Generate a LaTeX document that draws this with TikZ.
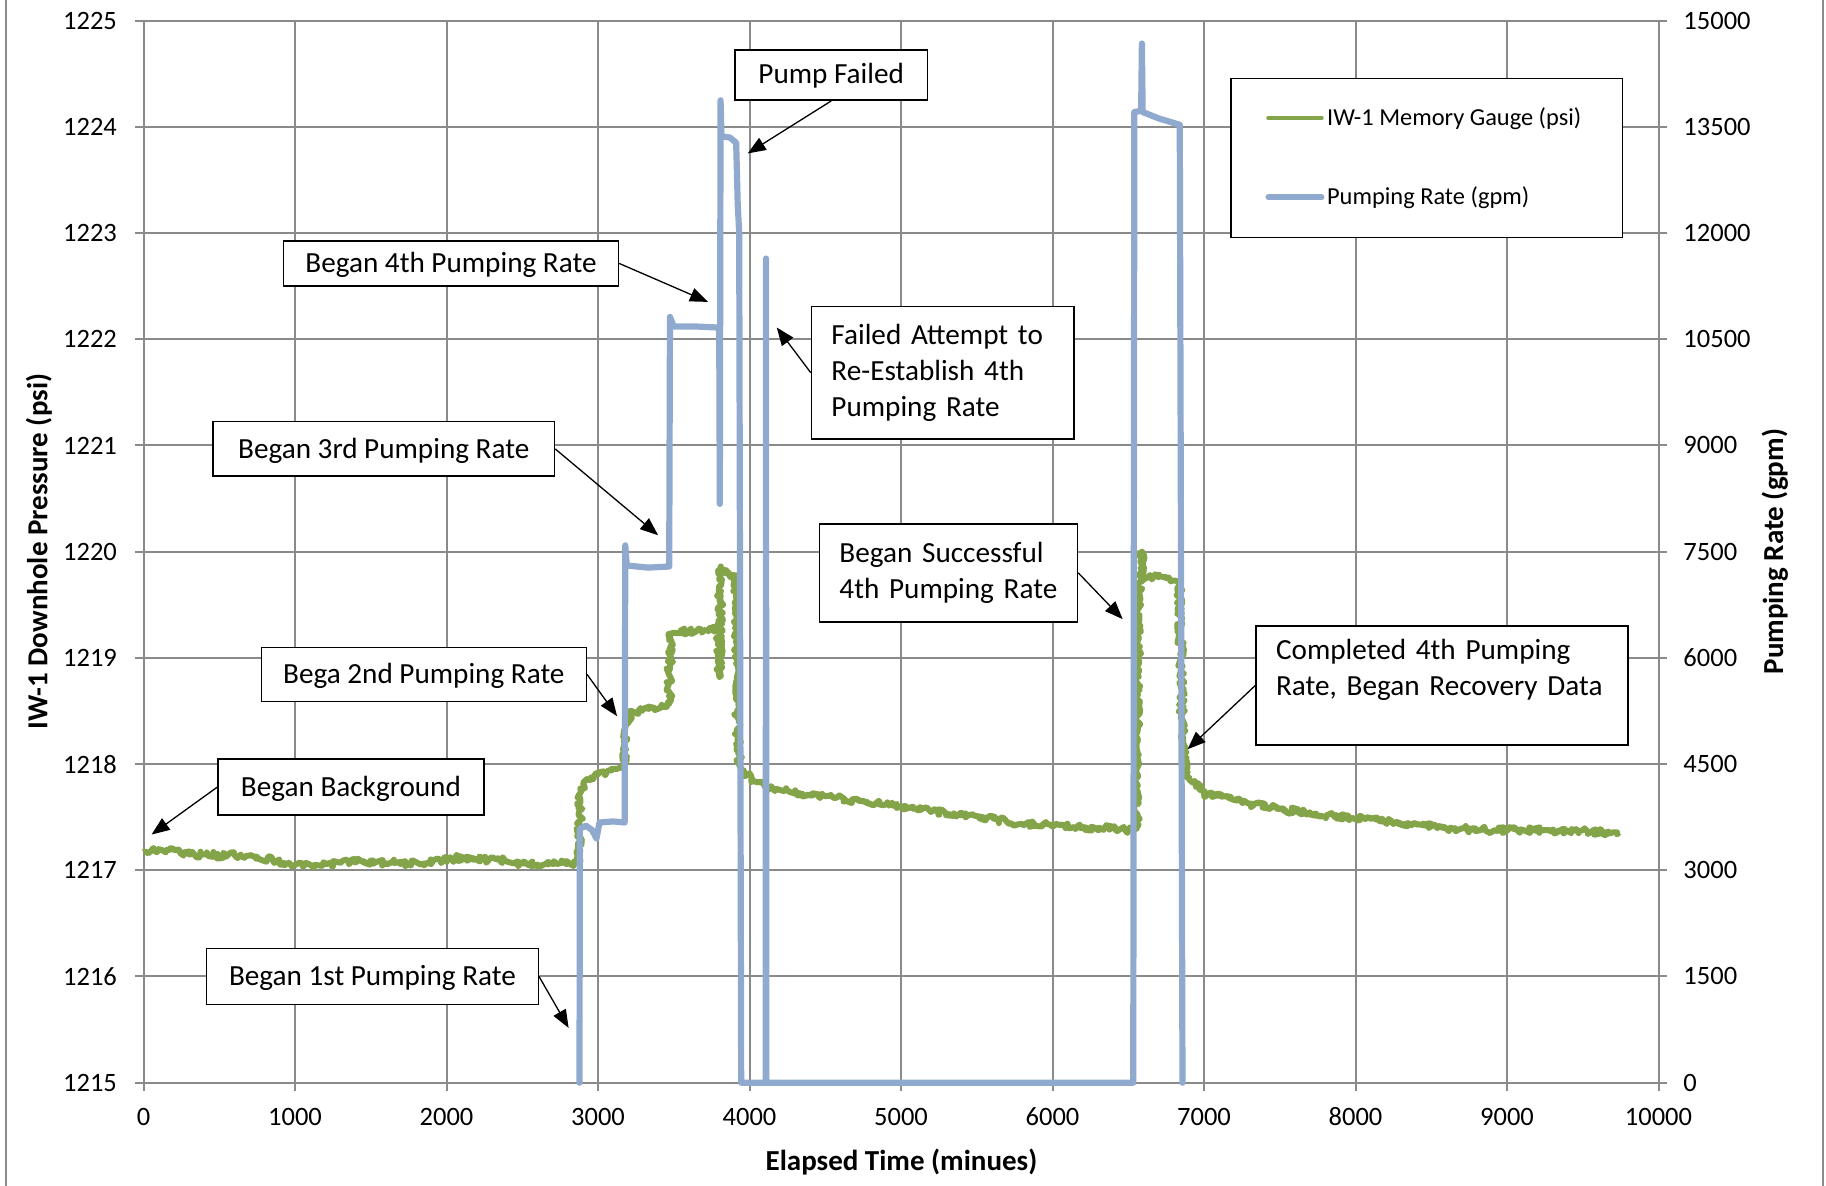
\documentclass[tikz,border=0pt]{standalone}
\usepackage{fontspec}
\setmainfont{Carlito}
\usetikzlibrary{arrows.meta,decorations.pathmorphing}
\definecolor{gridgray}{HTML}{8A8A8A}
\definecolor{framegray}{HTML}{8C8C8C}
\definecolor{gaugegreen}{HTML}{83A449}
\definecolor{rateblue}{HTML}{8FAACE}

\begin{document}
\begin{tikzpicture}[
  x=75.75pt, y=53.1pt, font=\fontsize{14.6}{18}\selectfont,
  gridline/.style={draw=gridgray, line width=1pt},
  ticklabel/.style={inner sep=0pt, font=\fontsize{13.25}{16}\selectfont},
  axistitle/.style={inner sep=0pt, font=\fontsize{14.5}{17}\selectfont\bfseries},
  callout/.style={draw=black, fill=white, line width=0.75pt, inner xsep=10pt, inner ysep=0pt, anchor=north west, align=left},
  onecall/.style={callout, align=center, inner xsep=0pt, text height=9.4pt, text depth=0pt},
  callarrow/.style={draw=black, line width=0.65pt, -{Triangle[length=9pt,width=7pt]}},
  gauge/.style={draw=gaugegreen, line width=3pt, line join=round, decorate, decoration={random steps, segment length=1pt, amplitude=1.6pt}},
  rate/.style={draw=rateblue, line width=3.1pt, line join=round, line cap=round},
  legendbox/.style={draw=black, fill=white, line width=0.75pt, anchor=north west, inner sep=0pt},
  legendtext/.style={anchor=base west, inner sep=0pt, font=\fontsize{12.2}{15}\selectfont}
]
\pgfmathsetseed{7}
\useasboundingbox (-0.9472,-0.9727) rectangle (11.1056,10.1949);
\draw[draw=framegray, line width=0.85pt] (-0.9076,-0.9727) -- (-0.9076,10.1949);
\draw[draw=framegray, line width=0.85pt] (11.084,-0.9727) -- (11.084,10.1949);

\foreach \y in {0,...,10} {\draw[gridline] (-0.056,\y) -- (10.053,\y);}
\foreach \x in {0,...,10} {\draw[gridline] (\x,-0.075) -- (\x,10);}
\foreach \y in {0,...,10} {
  \pgfmathtruncatemacro\pval{1215+\y}
  \pgfmathtruncatemacro\gval{1500*\y}
  \node[ticklabel, anchor=east] at (-0.173,\y) {\pval};
  \node[ticklabel, anchor=west] at (10.162,\y) {\gval};
}
\foreach \x in {0,...,10} {
  \pgfmathtruncatemacro\tval{1000*\x}
  \node[ticklabel, anchor=base] at (\x,-0.401) {\tval};
}
\node[axistitle, anchor=base] (xtitle) at (5.003,-0.824) {Elapsed Time (minues)};
\node[axistitle, rotate=90, anchor=base] (ytitle) at (-0.634,5) {IW-1 Downhole Pressure (psi)};
\node[axistitle, rotate=90, anchor=base] (y2title) at (10.822,5) {Pumping Rate (gpm)};

\draw[gauge] plot coordinates {(0.00,2.17) (0.15,2.19) (0.30,2.15) (0.50,2.14) (0.70,2.14) (0.85,2.10) (1.00,2.05) (1.13,2.04) (1.30,2.07) (1.44,2.085) (1.65,2.07) (1.83,2.06) (2.00,2.10) (2.10,2.12) (2.25,2.10) (2.37,2.095) (2.54,2.05) (2.70,2.06) (2.87,2.07) (2.885,2.75) (2.92,2.85) (3.06,2.93) (3.17,2.96) (3.182,3.35) (3.22,3.48) (3.34,3.52) (3.47,3.57) (3.478,4.23) (3.55,4.25) (3.70,4.26) (3.797,4.27) (3.802,3.82) (3.808,4.85) (3.84,4.80) (3.90,4.78) (3.914,4.70) (3.918,3.60) (3.93,3.00) (3.97,2.91) (4.05,2.83) (4.13,2.77) (4.35,2.72) (4.68,2.66) (5.00,2.60) (5.35,2.535) (5.80,2.44) (6.05,2.425) (6.30,2.40) (6.51,2.378) (6.555,2.40) (6.565,4.55) (6.585,4.85) (6.59,5.00) (6.60,4.75) (6.70,4.76) (6.837,4.70) (6.86,3.20) (6.881,2.91) (7.00,2.72) (7.29,2.63) (7.62,2.55) (7.94,2.50) (8.27,2.456) (8.60,2.394) (8.92,2.378) (9.25,2.378) (9.58,2.362) (9.74,2.356)};
\draw[rate] plot coordinates {(2.878,0) (2.880,2.39) (2.92,2.42) (2.96,2.38) (2.99,2.30) (3.01,2.45) (3.10,2.46) (3.176,2.45) (3.180,5.06) (3.19,4.87) (3.33,4.85) (3.470,4.86) (3.475,7.21) (3.50,7.12) (3.65,7.12) (3.800,7.11) (3.804,5.45) (3.809,9.25) (3.815,8.91) (3.87,8.90) (3.912,8.85) (3.922,8.28) (3.932,8.00) (3.945,0) (4.107,0) (4.109,7.76) (4.111,0) (6.533,0) (6.540,9.14) (6.585,9.15) (6.590,9.785) (6.595,9.14) (6.70,9.08) (6.84,9.02) (6.858,0)};

\node[legendbox, minimum width=195.85pt, minimum height=79.5pt] (legend) at (7.172,9.461) {};
\draw[draw=gaugegreen, line width=2pt, line cap=round] (7.424,9.085) -- (7.777,9.085);
\draw[draw=rateblue, line width=2.7pt, line cap=round] (7.424,8.338) -- (7.777,8.338);
\node[legendtext] (gaugeentry) at (7.810,9.016) {IW-1 Memory Gauge (psi)};
\node[legendtext] (rateentry) at (7.810,8.269) {Pumping Rate (gpm)};

\node[onecall, minimum width=133.05pt, minimum height=28pt] (bg) at (0.486,3.053) {Began Background};
\node[onecall, minimum width=165.8pt, minimum height=28pt] (first) at (0.412,1.271) {Began 1st Pumping Rate};
\node[onecall, minimum width=162.5pt, minimum height=27.2pt] (second) at (0.773,4.107) {Bega 2nd Pumping Rate};
\node[onecall, minimum width=170.7pt, minimum height=27.3pt] (third) at (0.454,6.232) {Began 3rd Pumping Rate};
\node[onecall, minimum width=167.5pt, minimum height=22.5pt] (fourth) at (0.919,7.933) {Began 4th Pumping Rate};
\node[onecall, minimum width=96.4pt, minimum height=25pt, text height=8pt] (failed) at (3.898,9.729) {Pump Failed};
\node[callout, text width=111.3pt, minimum height=66.4pt] (retry) at (4.404,7.318) {Failed Attempt to\\Re-Establish 4th\\Pumping Rate};
\node[callout, text width=109pt, minimum height=48.9pt] (success) at (4.457,5.268) {Began Successful\\4th Pumping Rate};
\node[callout, text width=165.9pt, minimum height=59.5pt] (done) at (7.339,4.308) {Completed 4th Pumping\\Rate, Began Recovery Data\\\mbox{}};

\coordinate (bgtip) at (0.0535,2.337);
\coordinate (firsttip) at (2.806,0.516);
\coordinate (secondtip) at (3.126,3.451);
\coordinate (thirdtip) at (3.397,5.155);
\coordinate (fourthtip) at (3.726,7.352);
\coordinate (failedtip) at (3.988,8.750);
\coordinate (retrytip) at (4.180,7.111);
\coordinate (successtip) at (6.463,4.365);
\coordinate (donetip) at (6.892,3.140);
\draw[callarrow] (bg.west) -- (bgtip);
\draw[callarrow] (first.east) -- (firsttip);
\draw[callarrow] (second.east) -- (secondtip);
\draw[callarrow] (third.east) -- (thirdtip);
\draw[callarrow] (fourth.east) -- (fourthtip);
\draw[callarrow] (failed.south) -- (failedtip);
\draw[callarrow] (retry.west) -- (retrytip);
\draw[callarrow] (success.east) -- (successtip);
\draw[callarrow] (done.west) -- (donetip);
\end{tikzpicture}
\end{document}
